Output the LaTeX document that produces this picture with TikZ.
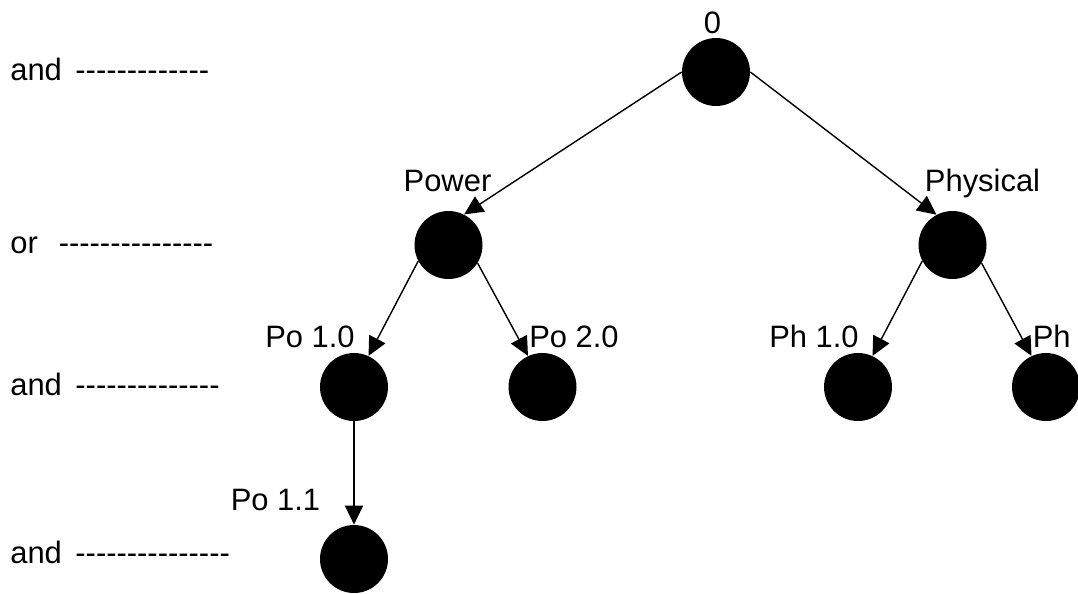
\documentclass[tikz,border=0pt]{standalone}
\usepackage{fontspec}
\setmainfont{Liberation Sans}
\usetikzlibrary{arrows.meta}

\newcommand{\dashrow}[1]{\foreach \k in {1,...,#1}{-\kern0pt}}

\begin{document}
\begin{tikzpicture}[x=0.02cm, y=-0.02cm,
    dot/.style={circle, fill=black, minimum size=1.36cm, inner sep=0pt},
    tag/.style={font=\fontsize{17.6}{21}\selectfont, inner sep=0pt, anchor=base},
    rowtag/.style={tag, anchor=base west},
    arr/.style={-{Triangle[length=0.38cm, width=0.36cm]}, line width=0.8pt}]
    \useasboundingbox (0,0) rectangle (1078,593);

    % 左侧层次标注
    \node[rowtag] (row1) at (10,80) {and\hspace{0.27cm}\dashrow{13}};
    \node[rowtag] (row2) at (10,253) {or\hspace{0.42cm}\dashrow{15}};
    \node[rowtag] (row3) at (10,395) {and\hspace{0.27cm}\dashrow{14}};
    \node[rowtag] (row4) at (10,563) {and\hspace{0.27cm}\dashrow{15}};

    % 树的节点
    \node[dot] (root) at (716,72) {};
    \node[dot] (power) at (448.5,245) {};
    \node[dot] (phys) at (952.5,245) {};
    \node[dot] (po1) at (354,387) {};
    \node[dot] (po2) at (542.5,387) {};
    \node[dot] (ph1) at (858,387) {};
    \node[dot] (ph2) at (1046,387) {};
    \node[dot] (po11) at (354,559) {};

    % 节点名称
    \node[tag] (lroot) at (712.5,33) {0};
    \node[tag] (lpower) at (447.5,191) {Power};
    \node[tag] (lphys) at (982.5,191) {Physical};
    \node[tag] (lpo1) at (310,347) {Po 1.0};
    \node[tag] (lpo2) at (574,347) {Po 2.0};
    \node[tag] (lph1) at (814,347) {Ph 1.0};
    \node[tag, anchor=base west] (lph2) at (1032.5,347) {Ph};
    \node[tag] (lpo11) at (275.5,510) {Po 1.1};

    % 箭头
    \draw[arr] (root.west) -- (power.63);
    \draw[arr] (root.east) -- (phys.118);
    \draw[arr] (power.208) -- (po1.65);
    \draw[arr] (power.328) -- (po2.115);
    \draw[arr] (phys.208) -- (ph1.65);
    \draw[arr] (phys.328) -- (ph2.115);
    \draw[arr] (po1.south) -- (po11.north);
\end{tikzpicture}
\end{document}
